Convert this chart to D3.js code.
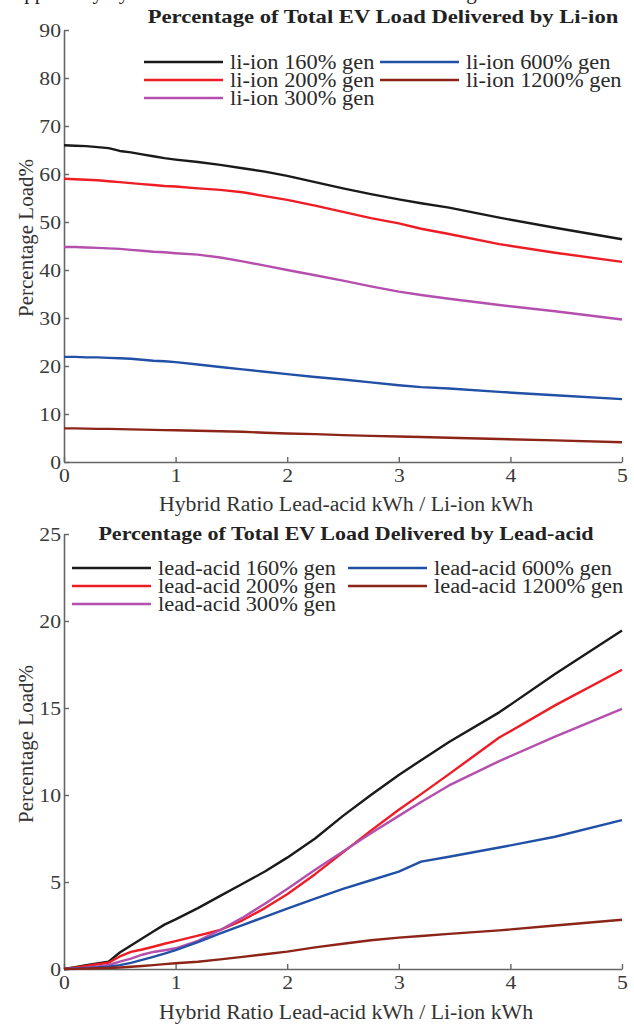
<!DOCTYPE html>
<html>
<head>
  <title>EV load delivered by Li-ion and Lead-acid</title>
  <script src="https://d3js.org/d3.v7.min.js"></script>
  <style>
    body { margin: 0; background: #fff; }
    svg { display: block; }
    svg text { font-family: "Liberation Serif", "DejaVu Serif", serif; fill: #333; }
  </style>
</head>
<body>
  <svg id="chart" width="634" height="1025"></svg>

  <script>
    // Hybrid ratio (lead-acid kWh / li-ion kWh) sample points
    const ratios = [0, 0.1, 0.2, 0.3, 0.4, 0.5, 0.6, 0.7, 0.8, 0.9, 1, 1.2, 1.4, 1.6, 1.8, 2, 2.25, 2.5, 2.75, 3, 3.2, 3.45, 3.9, 4.4, 5];

    const genLevels = ['160%', '200%', '300%', '600%', '1200%'];
    const colors = ['#1a1a1a', '#ee1c24', '#b54fae', '#2150a6', '#8c2518'];

    // Li-ion share of total EV load (%)
    const liion160 = [66.0, 65.9, 65.8, 65.6, 65.4, 64.8, 64.5, 64.1, 63.7, 63.3, 63.0, 62.5, 61.9, 61.2, 60.5, 59.6, 58.3, 57.0, 55.8, 54.7, 53.9, 53.0, 50.9, 48.8, 46.4];
    const liion200 = [59.0, 58.9, 58.8, 58.7, 58.5, 58.3, 58.1, 57.9, 57.7, 57.5, 57.4, 57.0, 56.7, 56.2, 55.4, 54.6, 53.4, 52.1, 50.8, 49.7, 48.6, 47.5, 45.4, 43.6, 41.7];
    const liion300 = [44.8, 44.8, 44.7, 44.6, 44.5, 44.4, 44.2, 44.0, 43.8, 43.7, 43.5, 43.2, 42.6, 41.8, 40.9, 40.0, 38.9, 37.8, 36.6, 35.5, 34.8, 34.0, 32.7, 31.4, 29.7];
    const liion600 = [21.9, 21.9, 21.8, 21.8, 21.7, 21.6, 21.5, 21.3, 21.1, 21.0, 20.8, 20.3, 19.8, 19.3, 18.8, 18.3, 17.7, 17.2, 16.6, 16.0, 15.6, 15.3, 14.6, 13.9, 13.1];
    const liion1200 = [7.0, 7.0, 6.95, 6.9, 6.9, 6.85, 6.8, 6.75, 6.7, 6.65, 6.6, 6.5, 6.4, 6.3, 6.1, 5.95, 5.8, 5.6, 5.45, 5.3, 5.2, 5.05, 4.8, 4.5, 4.1];

    // Lead-acid share of total EV load (%)
    const lead160 = [0, 0.1, 0.22, 0.32, 0.42, 0.95, 1.35, 1.75, 2.15, 2.55, 2.85, 3.5, 4.2, 4.9, 5.6, 6.4, 7.5, 8.8, 10.0, 11.15, 12.0, 13.05, 14.75, 16.95, 19.45];
    const lead200 = [0, 0.08, 0.17, 0.27, 0.36, 0.72, 0.98, 1.12, 1.28, 1.45, 1.6, 1.92, 2.24, 2.8, 3.5, 4.3, 5.45, 6.7, 7.95, 9.15, 10.05, 11.2, 13.3, 15.15, 17.2];
    const lead300 = [0, 0.03, 0.07, 0.14, 0.23, 0.42, 0.6, 0.82, 0.98, 1.08, 1.19, 1.62, 2.24, 2.95, 3.75, 4.6, 5.7, 6.75, 7.8, 8.8, 9.6, 10.55, 11.95, 13.35, 14.95];
    const lead600 = [0, 0.02, 0.05, 0.09, 0.13, 0.22, 0.35, 0.52, 0.7, 0.88, 1.08, 1.55, 2.05, 2.52, 3.0, 3.47, 4.05, 4.6, 5.1, 5.6, 6.17, 6.45, 6.98, 7.6, 8.56];
    const lead1200 = [0, 0.01, 0.02, 0.04, 0.06, 0.09, 0.13, 0.17, 0.22, 0.28, 0.33, 0.42, 0.55, 0.7, 0.85, 1.0, 1.24, 1.45, 1.65, 1.8, 1.9, 2.02, 2.22, 2.5, 2.83];

    const xTicks = [0, 1, 2, 3, 4, 5];
    const liTicks = [0, 10, 20, 30, 40, 50, 60, 70, 80, 90];
    const leadTicks = [0, 5, 10, 15, 20, 25];

    const FONT = '"Liberation Serif", "DejaVu Serif", serif';
    const svg = d3.select('#chart');

    // the source figure's text is a little wider than the serif font, so stretch it
    function stretch(sel, k) {
      sel.each(function () {
        const len = this.getComputedTextLength();
        d3.select(this).attr('textLength', len * k).attr('lengthAdjust', 'spacingAndGlyphs');
      });
    }

    // cut-off line of the surrounding document text
    svg.append('text')
      .attr('x', 2).attr('y', -1)
      .style('font-family', FONT).style('font-size', '21px').style('fill', '#222')
      .text('Supplied by hybrid ESS for each of the total load settings at the home and regarding the day');

    function drawPanel(opt) {
      const x = d3.scaleLinear().domain([0, 5]).range([64, 622]);
      const y = d3.scaleLinear().domain(opt.yDomain).range(opt.yRange);
      const g = svg.append('g');

      const yAxis = g.append('g')
        .attr('transform', 'translate(64,0)')
        .call(d3.axisLeft(y).tickValues(opt.yTicks).tickFormat(d3.format('d'))
          .tickSizeInner(-5).tickSizeOuter(0).tickPadding(3));
      const xAxis = g.append('g')
        .attr('transform', `translate(0,${opt.yRange[0]})`)
        .call(d3.axisBottom(x).tickValues(xTicks).tickFormat(d3.format('d'))
          .tickSizeInner(-5).tickSizeOuter(0).tickPadding(6));

      [yAxis, xAxis].forEach(a => {
        a.attr('font-family', FONT);
        a.select('.domain').attr('stroke', '#666').attr('stroke-width', 1.6);
        a.selectAll('.tick line').attr('stroke', '#666').attr('stroke-width', 1.4);
        a.selectAll('.tick text').style('font-family', FONT).style('font-size', '19px').style('fill', '#3a3a3a');
        stretch(a.selectAll('.tick text'), 1.14);
      });
      yAxis.selectAll('.tick text').attr('dy', '0.34em');
      xAxis.selectAll('.tick text').attr('dy', '0.72em');

      const line = d3.line()
        .x((d, i) => x(ratios[i]))
        .y(d => y(d));

      g.selectAll('path.series')
        .data(opt.series)
        .join('path')
        .attr('class', 'series')
        .attr('d', d => line(d))
        .attr('fill', 'none')
        .attr('stroke', (d, i) => colors[i])
        .attr('stroke-width', 2.4)
        .attr('stroke-linejoin', 'round');

      // title
      g.append('text')
        .attr('x', opt.titleX).attr('y', opt.titleY)
        .attr('text-anchor', 'middle')
        .style('font-family', FONT).style('font-size', '19.5px').style('font-weight', 'bold').style('fill', '#222')
        .text(opt.title)
        .call(stretch, opt.titleStretch);

      // axis labels
      g.append('text')
        .attr('x', 346).attr('y', opt.xLabelY)
        .attr('text-anchor', 'middle')
        .style('font-family', FONT).style('font-size', '20px')
        .text('Hybrid Ratio Lead-acid kWh / Li-ion kWh')
        .call(stretch, 1.09);

      g.append('text')
        .attr('transform', `translate(33,${opt.yLabelY}) rotate(-90)`)
        .attr('text-anchor', 'middle')
        .style('font-family', FONT).style('font-size', '21px')
        .text('Percentage Load%');

      // legend, filled column by column
      const items = genLevels.map((lev, i) => ({ label: `${opt.prefix} ${lev} gen`, i }));
      const leg = g.selectAll('g.leg')
        .data(items)
        .join('g')
        .attr('class', 'leg')
        .attr('transform', d => {
          const col = d.i < 3 ? 0 : 1;
          const row = d.i < 3 ? d.i : d.i - 3;
          return `translate(${opt.legX[col]},${opt.legY + row * 18})`;
        });
      leg.append('line')
        .attr('x1', 0).attr('x2', 79)
        .attr('stroke', d => colors[d.i]).attr('stroke-width', 2.6);
      leg.append('text')
        .attr('x', 86).attr('y', 7)
        .style('font-family', FONT).style('font-size', '20px').style('fill', '#2a2a2a')
        .text(d => d.label)
        .call(stretch, 1.12);
    }

    drawPanel({
      yDomain: [0, 90], yRange: [462, 30], yTicks: liTicks,
      series: [liion160, liion200, liion300, liion600, liion1200],
      title: 'Percentage of Total EV Load Delivered by Li-ion', titleX: 383, titleY: 23, titleStretch: 1.16,
      xLabelY: 511, yLabelY: 238,
      prefix: 'li-ion', legX: [144, 380], legY: 62
    });

    drawPanel({
      yDomain: [0, 25], yRange: [969, 534], yTicks: leadTicks,
      series: [lead160, lead200, lead300, lead600, lead1200],
      title: 'Percentage of Total EV Load Delivered by Lead-acid', titleX: 346, titleY: 540, titleStretch: 1.13,
      xLabelY: 1019, yLabelY: 744,
      prefix: 'lead-acid', legX: [72, 348], legY: 568
    });
  </script>
</body>
</html>
